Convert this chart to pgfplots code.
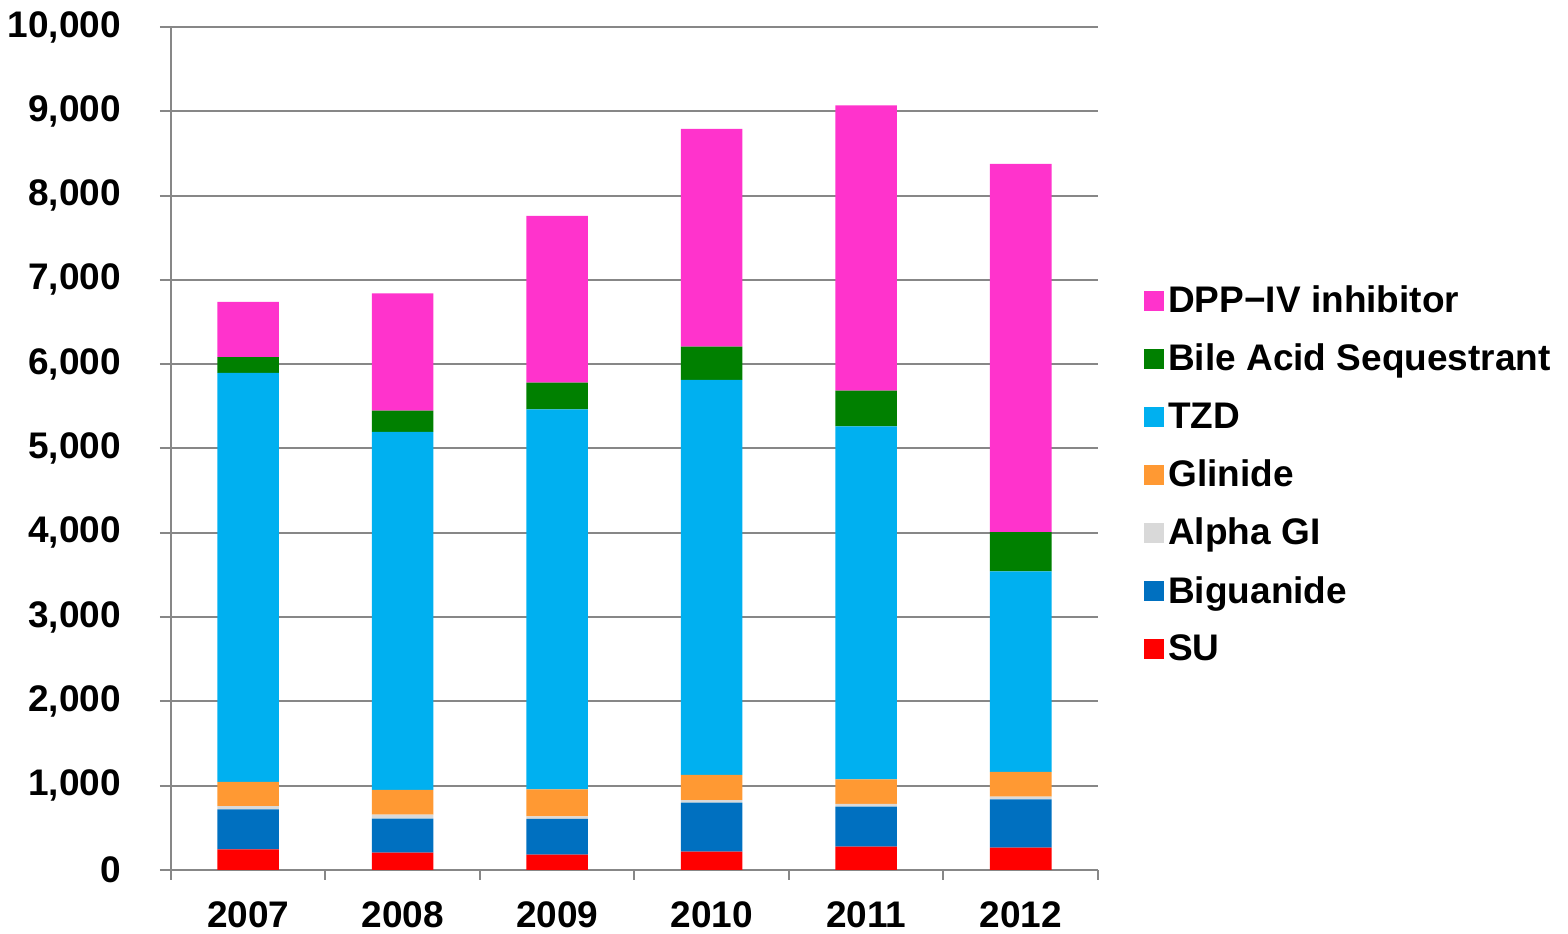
\documentclass[border=0pt]{standalone}
\usepackage{fontspec}
\setmainfont{Liberation Sans}
\usepackage{pgfplots}
\usepackage{pgfplotstable}
\pgfplotsset{compat=1.18}

\definecolor{cDPP}{HTML}{FF33CC}
\definecolor{cBAS}{HTML}{008000}
\definecolor{cTZD}{HTML}{00B0F0}
\definecolor{cGLI}{HTML}{FF9933}
\definecolor{cAGI}{HTML}{D9D9D9}
\definecolor{cBIG}{HTML}{0070C0}
\definecolor{cSU}{HTML}{FF0000}
\definecolor{gridgray}{HTML}{878787}

% x: 0 = 2007 ... 5 = 2012
\pgfplotstableread{
x  SU   BIG  AGI  GLI  TZD   BAS  DPP
0  245  475  39   285  4852  189  653
1  205  403  48   293  4247  253  1392
2  181  424  32   320  4508  316  1977
3  217  581  32   297  4686  395  2582
4  276  475  32   293  4187  423  3385
5  265  574  31   293  2380  466  4366
}\sales

\begin{document}
\begin{tikzpicture}
\begin{axis}[
  name=main,
  scale only axis,
  width=463.5pt, height=421.5pt,
  ybar stacked,
  bar width=30.75pt,
  xmin=-0.5, xmax=5.5,
  ymin=0, ymax=10000,
  xtick={0,1,2,3,4,5},
  xticklabels={2007,2008,2009,2010,2011,2012},
  minor xtick={-0.5,0.5,1.5,2.5,3.5,4.5,5.5},
  ytick={0,1000,...,10000},
  scaled y ticks=false,
  axis lines*=left,
  axis line style={gridgray, line width=1pt},
  ymajorgrids,
  grid style={gridgray, line width=1pt},
  tick align=outside,
  major tick length=5.5pt,
  minor tick length=5pt,
  tick style={gridgray, line width=1pt},
  xtick style={draw=none},
  minor x tick style={draw=gridgray, line width=1pt},
  font=\fontsize{18.5}{22}\selectfont\bfseries,
  tick label style={font=\fontsize{18.5}{22}\selectfont\bfseries},
  /pgf/number format/assume math mode=true,
  /pgf/number format/.cd, fixed, precision=0, 1000 sep={,},
  /pgfplots/.cd,
  yticklabel style={anchor=east, xshift=-16pt},
  xticklabel style={anchor=north, yshift=-7pt},
  reverse legend,
  legend style={
    at={(1.043,0.703)}, anchor=north west,
    draw=none, fill=none,
    font=\fontsize{18.5}{22}\selectfont\bfseries,
    row sep=10.3pt,
    /tikz/every odd column/.append style={column sep=0pt},
  },
  legend cell align=left,
  legend image code/.code={\fill[#1] (0pt,-5pt) rectangle (10pt,5pt);},
  clip=false,
]
\addplot[fill=cSU,  draw=none] table[x=x, y=SU]  {\sales};
\addplot[fill=cBIG, draw=none] table[x=x, y=BIG] {\sales};
\addplot[fill=cAGI, draw=none] table[x=x, y=AGI] {\sales};
\addplot[fill=cGLI, draw=none] table[x=x, y=GLI] {\sales};
\addplot[fill=cTZD, draw=none] table[x=x, y=TZD] {\sales};
\addplot[fill=cBAS, draw=none] table[x=x, y=BAS] {\sales};
\addplot[fill=cDPP, draw=none] table[x=x, y=DPP] {\sales};
\legend{SU, Biguanide, Alpha GI, Glinide, TZD, Bile Acid Sequestrant, DPP−IV inhibitor}
\end{axis}
% page frame around the chart
\pgfresetboundingbox
\path ([xshift=-85.5pt,yshift=-32pt]main.south west) rectangle ([xshift=235pt,yshift=13.5pt]main.north east);
\end{tikzpicture}
\end{document}
